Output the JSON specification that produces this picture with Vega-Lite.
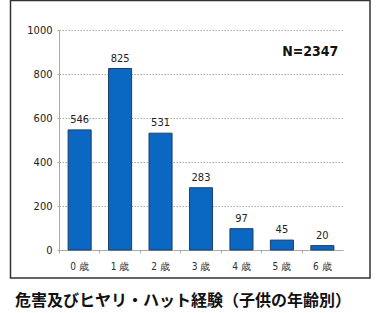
{
  "$schema": "https://vega.github.io/schema/vega-lite/v6.json",
  "width": 284,
  "height": 220,
  "autosize": {"type": "none"},
  "padding": {"left": 59, "top": 30, "right": 44, "bottom": 63},
  "background": "white",
  "config": {"view": {"stroke": null}},
  "title": {
    "text": "危害及びヒヤリ・ハット経験（子供の年齢別）",
    "orient": "bottom",
    "anchor": "middle",
    "frame": "group",
    "dx": -18,
    "offset": 14,
    "font": "Noto Sans CJK JP",
    "fontSize": 16,
    "fontWeight": "bold",
    "color": "#111"
  },
  "layer": [
    {
      "layer": [
        {
          "data": {"values": [
            {"age": "0 歳", "count": 546},
            {"age": "1 歳", "count": 825},
            {"age": "2 歳", "count": 531},
            {"age": "3 歳", "count": 283},
            {"age": "4 歳", "count": 97},
            {"age": "5 歳", "count": 45},
            {"age": "6 歳", "count": 20}
          ]},
          "encoding": {
            "x": {
              "field": "age", "type": "nominal", "sort": null,
              "scale": {"paddingInner": 0.43, "paddingOuter": 0.225},
              "axis": {
                "title": null, "labelAngle": 0, "labelPadding": 8,
                "labelFont": "Liberation Sans Narrow, DejaVu Sans Condensed, sans-serif",
                "labelFontSize": 10, "labelColor": "#333",
                "domainColor": "#aaa", "tickColor": "#aaa", "tickSize": 3,
                "bandPosition": -0.38
              }
            },
            "y": {
              "field": "count", "type": "quantitative",
              "scale": {"domain": [0, 1000]},
              "axis": {
                "title": null, "values": [0, 200, 400, 600, 800, 1000], "format": "d",
                "labelFont": "Liberation Sans Narrow, DejaVu Sans Condensed, sans-serif",
                "labelFontSize": 11, "labelColor": "#222", "labelPadding": 5,
                "domainColor": "#aaa", "tickColor": "#aaa", "tickSize": 2,
                "gridColor": "#aaa", "gridDash": [1.5, 1.5], "gridWidth": 1
              }
            }
          },
          "layer": [
            {"mark": {"type": "bar", "color": "#0a67c2", "stroke": "#1f3f66", "strokeWidth": 1}},
            {
              "mark": {"type": "text", "baseline": "bottom", "dy": -5,
                       "font": "Liberation Sans Narrow, DejaVu Sans Condensed, sans-serif",
                       "fontSize": 11, "color": "#222"},
              "encoding": {"text": {"field": "count", "type": "quantitative"}}
            }
          ]
        },
        {
          "data": {"values": [{"label": "N=2347", "age": "6 歳", "count": 900}]},
          "mark": {"type": "text", "align": "right", "baseline": "middle", "dx": 16,
                   "font": "Liberation Sans Narrow, DejaVu Sans Condensed, sans-serif",
                   "fontSize": 14, "fontWeight": "bold", "color": "#111"},
          "encoding": {
            "x": {"field": "age", "type": "nominal", "sort": null},
            "y": {"field": "count", "type": "quantitative"},
            "text": {"field": "label"}
          }
        }
      ]
    },
    {
      "data": {"values": [{"x0": 0, "x1": 1, "y0": 0, "y1": 1}]},
      "mark": {"type": "rect", "fill": null, "stroke": "#333", "strokeWidth": 1.5, "clip": false},
      "encoding": {
        "x": {"field": "x0", "type": "quantitative", "scale": {"domain": [0, 1], "range": [-48.5, 311]}, "axis": null},
        "x2": {"field": "x1"},
        "y": {"field": "y0", "type": "quantitative", "scale": {"domain": [0, 1], "range": [248, -29.5]}, "axis": null},
        "y2": {"field": "y1"}
      }
    }
  ],
  "resolve": {"scale": {"x": "independent", "y": "independent"}}
}
